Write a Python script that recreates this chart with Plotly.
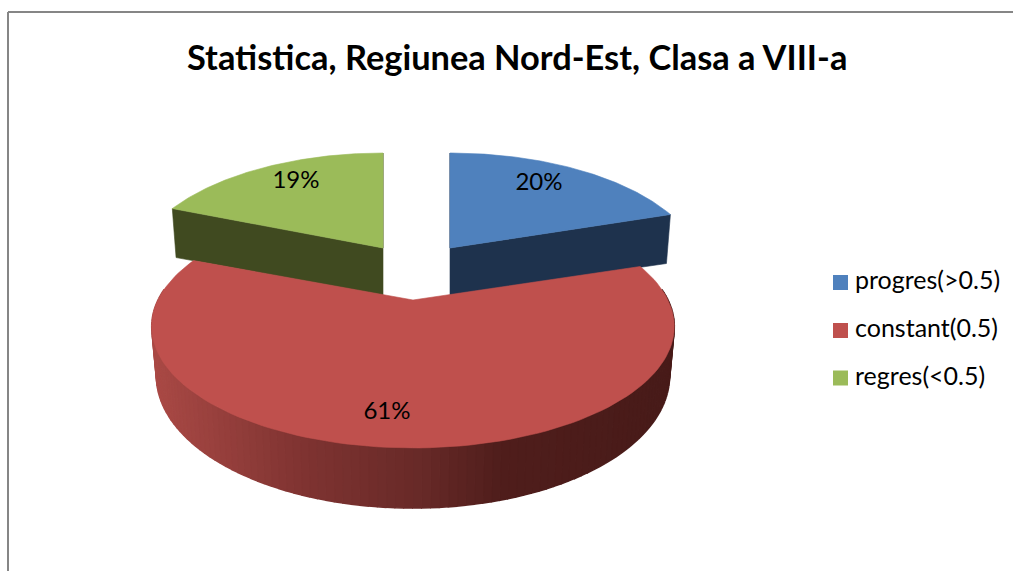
import numpy as np
import plotly.graph_objects as go

TITLE = "Statistica, Regiunea Nord-Est, Clasa a VIII-a"
categories = ["progres(>0.5)", "constant(0.5)", "regres(<0.5)"]
values = [20, 61, 19]
labels = ["20%", "61%", "19%"]

top_colors = ["#4f81bd", "#bf504d", "#9bbb59"]
wall_colors = ["#1e324d", "#4a1c1a", "#404a20"]
FONT = "Lato, Carlito, 'Open Sans', sans-serif"

# projection of the pie disc (perspective seen from above)
A, B, K = 255.0, 115.7, 0.218
CENTERS = [(450, 248), (413, 300), (383, 248)]
WIDTH_SCALE = [0.97, 1.0, 0.96]
LABEL_POS = [(539, 184), (387, 413), (296, 182)]
SWATCH_POS = [(840.5, 282.5), (840.5, 330.5), (840.5, 378)]
LEGEND_TEXT_X = 855
LEGEND_TEXT_Y = [283, 331, 379]
WALL_H = 49.0
SHRINK = 0.982


def project(theta, center, scale=1.0):
    u, v = np.sin(theta), -np.cos(theta)
    w = 1 - K * v
    return center[0] + scale * A * u / w, center[1] + B * v / w, v


def lower(x, y, cx, h):
    return cx + (x - cx) * SHRINK, y + h


fig = go.Figure()


def poly(xs, ys, color, lw=0.6):
    fig.add_trace(go.Scatter(x=list(xs), y=list(ys), mode="lines", fill="toself",
                             fillcolor=color, line=dict(color=color, width=lw),
                             hoverinfo="skip", showlegend=False))


def wall(theta, center, color, scale):
    x, y, _ = project(np.array(theta), center, scale)
    cx = center[0]
    bx, by = lower(x, y, cx, WALL_H)
    poly([center[0], x, bx, cx], [center[1], y, by, center[1] + WALL_H - 2], color)


total = sum(values)
edges = np.cumsum([0] + values) / total * 2 * np.pi

# blue and green slices first (they sit behind the red one)
for i in (0, 2):
    c = CENTERS[i]
    wall(edges[i], c, wall_colors[i], WIDTH_SCALE[i])
    wall(edges[i + 1], c, wall_colors[i], WIDTH_SCALE[i])

# red slice side, shaded from left (light) to right (dark)
c = CENTERS[1]
stops_x = [150, 300, 420, 500, 672]
stops_r = [171, 128, 104, 80, 72]
stops_g = [74, 52, 42, 30, 27]
stops_b = [70, 50, 40, 28, 25]
t = np.linspace(np.pi * 0.47, np.pi * 1.53, 121)
tx, ty, tv = project(t, c, WIDTH_SCALE[1])
bx, by = c[0] + (tx - c[0]) * SHRINK, ty + 47.0 / (1 - K * tv)
for j in range(len(t) - 1):
    mx = (tx[j] + tx[j + 1]) / 2
    col = "rgb(%d,%d,%d)" % (np.interp(mx, stops_x, stops_r),
                             np.interp(mx, stops_x, stops_g),
                             np.interp(mx, stops_x, stops_b))
    poly([tx[j], tx[j + 1], bx[j + 1], bx[j]], [ty[j], ty[j + 1], by[j + 1], by[j]], col, lw=1.6)

# top faces
for i in (0, 2, 1):
    c = CENTERS[i]
    t = np.linspace(edges[i], edges[i + 1], 120)
    x, y, _ = project(t, c, WIDTH_SCALE[i])
    poly(np.r_[c[0], x, c[0]], np.r_[c[1], y, c[1]], top_colors[i])

# value labels
fig.add_trace(go.Scatter(x=[p[0] for p in LABEL_POS], y=[p[1] for p in LABEL_POS], mode="text",
                         text=labels, textposition="middle center",
                         textfont=dict(family=FONT, size=24, color="#000000"),
                         hoverinfo="skip", showlegend=False))

# legend swatches and their texts
fig.add_trace(go.Scatter(x=[p[0] for p in SWATCH_POS], y=[p[1] for p in SWATCH_POS],
                         mode="markers",
                         marker=dict(symbol="square", size=15, color=top_colors),
                         hoverinfo="skip", showlegend=False))
fig.add_trace(go.Scatter(x=[LEGEND_TEXT_X] * len(categories), y=LEGEND_TEXT_Y,
                         mode="text", text=categories, textposition="middle right",
                         textfont=dict(family=FONT, size=25, color="#000000"),
                         hoverinfo="skip", showlegend=False))

fig.update_layout(
    width=1013, height=571, margin=dict(l=0, r=0, t=0, b=0),
    paper_bgcolor="white", plot_bgcolor="white", showlegend=False,
    xaxis=dict(range=[0, 1013], visible=False, fixedrange=True),
    yaxis=dict(range=[571, 0], visible=False, fixedrange=True),
    shapes=[dict(type="line", x0=8, x1=8, y0=12, y1=571, line=dict(color="#868686", width=2)),
            dict(type="line", x0=8, x1=1013, y0=12, y1=12, line=dict(color="#868686", width=2))],
    annotations=[dict(text="<b>%s</b>" % TITLE, x=517, y=56, xref="x", yref="y", showarrow=False,
                      font=dict(family=FONT, size=34.4, color="#000000"))],
)
fig.write_html(
    "out.html", config=dict(displayModeBar=False),
    post_script="document.body.style.margin='0';document.body.style.overflow='hidden';"
                "var s=document.createElement('style');"
                "s.textContent='text{font-variant-ligatures:none}';document.head.appendChild(s);",
)
